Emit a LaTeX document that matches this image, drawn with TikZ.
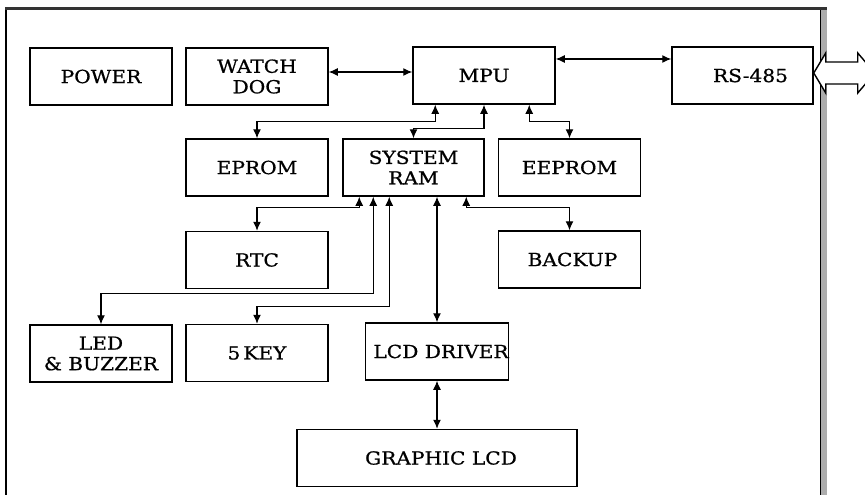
\documentclass[tikz,border=0pt]{standalone}
\usepackage{fontspec}
\setmainfont{DejaVu Serif}[FakeStretch=1.12,FakeBold=0.8]
\usetikzlibrary{arrows.meta,calc}
\begin{document}
\begin{tikzpicture}[x=1pt,y=-1pt,
  blk/.style={draw,line width=1.5pt,minimum width=142pt,minimum height=57pt,
    inner sep=0pt,align=center,font=\fontsize{18}{20.5}\selectfont},
  conn/.style={line width=1.2pt,{Latex[length=9pt,width=8pt]}-{Latex[length=9pt,width=8pt]}},
  hollow/.style={draw,line width=1.4pt,fill=white,line join=miter}]
\useasboundingbox (0,0) rectangle (865,495);
% frame
\fill[gray!65] (820,9) rectangle (827,495);
\draw[line width=1pt] (820,9) -- (820,495);
\draw[line width=1.4pt] (6,9) -- (6,495);
\draw[line width=3pt,black!80] (5,9) -- (827,9);
% blocks
\node[blk] (power) at (101,76.5) {POWER};
\node[blk] (wd) at (257,76.5) {WATCH\\DOG};
\node[blk] (mpu) at (484,75.5) {MPU};
\node[blk,minimum width=141pt] (rs) at (742.5,75.5) {\hspace*{16pt}RS-485};
\node[blk] (eprom) at (257,167.5) {EPROM};
\node[blk,minimum width=141pt] (ram) at (413.5,167.5) {SYSTEM\\RAM};
\node[blk] (eeprom) at (569.5,167.5) {EEPROM};
\node[blk] (rtc) at (257,260) {RTC};
\node[blk] (backup) at (569.5,259.5) {\hspace*{6pt}BACKUP};
\node[blk] (led) at (101,353.5) {LED\\\& BUZZER};
\node[blk] (key) at (257,353) {5\,KEY};
\node[blk] (lcd) at (437,351.5) {\hspace*{8pt}LCD DRIVER};
\node[blk,minimum width=280pt] (glcd) at (437,458) {\hspace*{8pt}GRAPHIC LCD};
% connectors
\coordinate (a1) at ([yshift=4.5pt]wd.east);
\draw[conn] (a1) -- (a1 -| mpu.west);
\coordinate (a2) at ([yshift=16.5pt]mpu.east);
\draw[conn] (a2) -- (a2 -| rs.west);
\draw[conn] ([xshift=23pt]mpu.south west) -- ++(0,17) -| (eprom.north);
\draw[conn] (mpu.south) -- ++(0,23.5) -| (ram.north);
\draw[conn] ([xshift=117pt]mpu.south west) -- ++(0,17) -| (eeprom.north);
\draw[conn] ([xshift=17pt]ram.south west) -- ++(0,11) -| (rtc.north);
\draw[conn] ([xshift=31pt]ram.south west) -- ++(0,97) -| (led.north);
\draw[conn] ([xshift=47pt]ram.south west) -- ++(0,110) -| (key.north);
\draw[conn] (ram.south -| lcd.north) -- (lcd.north);
\draw[conn] ([xshift=124pt]ram.south west) -- ++(0,11) -| (backup.north);
\draw[conn] (lcd.south) -- (glcd.north);
% RS-485 bus arrow
\coordinate (tipL) at ([yshift=2.5pt]rs.east);
\draw[hollow] (tipL) -- ++(12,-20) -- ++(0,9) -- ++(32,0) -- ++(0,-9) -- ++(17,20)
  -- ++(-17,20) -- ++(0,-9) -- ++(-32,0) -- ++(0,9) -- cycle;
\end{tikzpicture}
\end{document}
